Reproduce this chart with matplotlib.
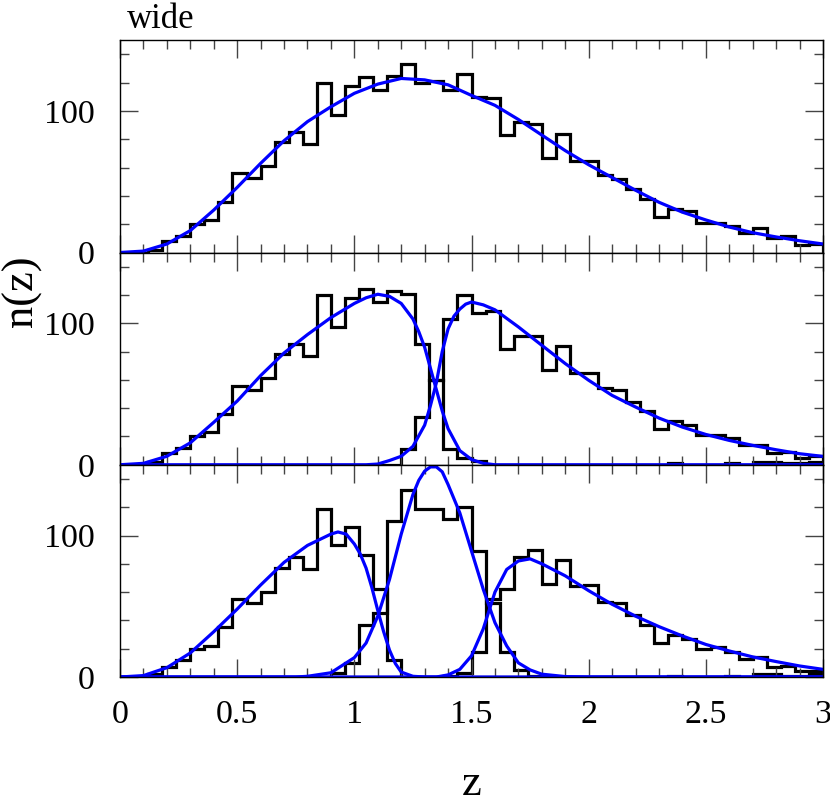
import numpy as np
import matplotlib
matplotlib.use("Agg")
import matplotlib.pyplot as plt
from matplotlib.ticker import MultipleLocator

plt.rcParams['font.family'] = ['Liberation Serif', 'DejaVu Serif']

# histogram bins: 0..3 in steps of 0.06
bin_edges = np.linspace(0, 3, 51)

# top panel ("wide")
wide_counts = [0, 0, 2, 8, 12, 20, 23, 36, 56, 53, 61, 78, 85, 77, 120, 97, 118, 124, 115, 125,
               133, 120, 121, 115, 126, 110, 109, 83, 92, 91, 67, 84, 65, 65, 55, 52, 45, 38, 25, 31,
               29, 21, 21, 19, 14, 17, 10, 12, 5, 6]

# middle panel, two bins
two_lo_counts = [0, 0, 2, 8, 12, 20, 23, 36, 56, 53, 61, 78, 85, 77, 120, 97, 118, 124, 115, 123,
                 121, 85, 60, 11, 5, 3, 0, 0, 0, 0, 0, 0, 0, 0, 0, 0, 0, 0, 0, 1,
                 0, 0, 0, 1, 0, 2, 2, 1, 1, 2]
two_hi_counts = [0, 0, 0, 0, 0, 0, 0, 0, 0, 0, 0, 0, 0, 0, 0, 0, 0, 0, 0, 0,
                 11, 34, 60, 103, 120, 107, 109, 82, 91, 91, 67, 84, 65, 65, 54, 53, 44, 38, 25, 31,
                 28, 21, 21, 19, 14, 14, 8, 9, 5, 6]

# bottom panel, three bins
three_lo_counts = [0, 0, 2, 7, 12, 20, 22, 35, 55, 52, 60, 77, 85, 76, 119, 93, 106, 86, 62, 12,
                   0, 0, 0, 0, 0, 0, 0, 0, 0, 0, 0, 0, 0, 0, 0, 0, 0, 0, 0, 1,
                   0, 0, 0, 1, 0, 2, 2, 1, 1, 2]
three_mid_counts = [0, 0, 0, 0, 0, 0, 0, 0, 0, 0, 0, 0, 0, 0, 0, 3, 10, 37, 45, 110,
                    132, 119, 119, 112, 120, 89, 52, 18, 5, 1, 0, 0, 0, 0, 0, 0, 0, 0, 0, 0,
                    0, 0, 0, 0, 0, 0, 0, 0, 0, 0]
three_hi_counts = [0, 0, 0, 0, 0, 0, 0, 0, 0, 0, 0, 0, 0, 0, 0, 0, 0, 0, 0, 0,
                   0, 0, 0, 1, 3, 18, 55, 62, 85, 90, 66, 83, 64, 65, 53, 52, 44, 37, 24, 30,
                   27, 20, 21, 18, 13, 14, 7, 8, 4, 4]

# smooth model curves
wide_z = [0, 0.1, 0.2, 0.3, 0.4, 0.5, 0.6, 0.7, 0.8, 0.9, 1.0, 1.1, 1.2, 1.3, 1.4, 1.5, 1.6, 1.7,
          1.8, 1.9, 2.0, 2.1, 2.2, 2.3, 2.4, 2.5, 2.6, 2.7, 2.8, 2.9, 3.0]
wide_nz = [0, 1, 6, 15.5, 30, 46, 63, 79, 92.5, 103, 112.5, 119, 123, 122, 118.5, 111, 104, 94,
           83, 72, 62, 53, 44, 35.5, 28.5, 23, 18, 14, 11, 8.3, 6]

two_lo_z = [0, 0.1, 0.2, 0.3, 0.4, 0.5, 0.6, 0.7, 0.8, 0.9, 1.0, 1.05, 1.1, 1.15, 1.2, 1.25,
            1.275, 1.3, 1.325, 1.35, 1.375, 1.4, 1.45, 1.5, 1.55, 1.6, 3.0]
two_lo_nz = [0, 1, 6, 15.5, 30, 45, 63, 79, 92, 104, 114, 118, 120.5, 119, 114, 103,
             94, 83, 68, 53, 38, 25.5, 10, 3.7, 1, 0, 0]
two_hi_z = [0, 1.05, 1.1, 1.15, 1.2, 1.25, 1.3, 1.325, 1.35, 1.375, 1.4, 1.425, 1.45, 1.475,
            1.5, 1.55, 1.6, 1.7, 1.8, 1.9, 2.0, 2.1, 2.2, 2.3, 2.4, 2.5, 2.6, 2.7, 2.8, 2.9, 3.0]
two_hi_nz = [0, 0, 0.5, 3, 6, 13, 28, 42, 58, 80, 96, 105, 110, 113.5,
             115, 113, 109.5, 97.4, 84.4, 71.5, 59.7, 49, 40.8, 33, 26.6, 21.4, 17.2, 13.7, 10.6, 7.8, 5.9]

three_lo_z = [0, 0.1, 0.2, 0.3, 0.4, 0.5, 0.6, 0.7, 0.8, 0.9, 0.93, 0.965, 1.0, 1.025, 1.05,
              1.075, 1.1, 1.125, 1.15, 1.175, 1.2, 1.25, 1.3, 3.0]
three_lo_nz = [0, 1, 6.6, 17, 32, 48, 65, 81, 93, 101, 102.5, 101, 94, 87, 77,
               63, 47, 32, 19, 9.5, 3.5, 0.5, 0, 0]
three_mid_z = [0, 0.75, 0.8, 0.9, 1.0, 1.05, 1.1, 1.15, 1.2, 1.25, 1.275, 1.3, 1.325, 1.35,
               1.375, 1.4, 1.45, 1.5, 1.55, 1.6, 1.65, 1.7, 1.75, 1.8, 1.9, 2.0, 3.0]
three_mid_nz = [0, 0, 0.5, 3, 13.7, 24, 43, 69, 101, 129, 139, 145.5, 148.5, 148.5,
                145, 136, 116, 89, 62, 38.4, 22, 10, 5, 2, 0.3, 0, 0]
three_hi_z = [0, 1.35, 1.4, 1.45, 1.5, 1.55, 1.6, 1.65, 1.7, 1.75, 1.8, 1.9, 2.0, 2.1, 2.2,
              2.3, 2.4, 2.5, 2.6, 2.7, 2.8, 2.9, 3.0]
three_hi_nz = [0, 0, 1.5, 5.4, 15, 34, 60, 76, 82, 83.5, 80, 71.5, 61, 51.4, 43,
               35.6, 29, 23, 18.4, 14.2, 10.9, 7.8, 5.4]

panels = [
    [(wide_counts, wide_z, wide_nz)],
    [(two_lo_counts, two_lo_z, two_lo_nz), (two_hi_counts, two_hi_z, two_hi_nz)],
    [(three_lo_counts, three_lo_z, three_lo_nz), (three_mid_counts, three_mid_z, three_mid_nz),
     (three_hi_counts, three_hi_z, three_hi_nz)],
]

fig, axes = plt.subplots(3, 1, figsize=(8.3, 8.05), dpi=100, sharex=True)
fig.subplots_adjust(left=0.1446, right=0.9916, top=0.950, bottom=0.159, hspace=0)

for ax, sets in zip(axes, panels):
    for counts, cz, cn in sets:
        ax.stairs(counts, bin_edges, color='black', lw=2.3)
    for counts, cz, cn in sets:
        ax.plot(cz, cn, color='#0000ff', lw=2.3, solid_joinstyle='round')
    ax.set_xlim(0, 3)
    ax.set_ylim(0, 150)
    ax.xaxis.set_major_locator(MultipleLocator(0.5))
    ax.xaxis.set_minor_locator(MultipleLocator(0.1))
    ax.yaxis.set_major_locator(MultipleLocator(100))
    ax.yaxis.set_minor_locator(MultipleLocator(20))
    ax.tick_params(which='both', direction='in', top=True, right=True, width=1, colors='#444444',
                   labelcolor='black', labelsize=24.5)
    ax.tick_params(which='major', length=13)
    ax.tick_params(which='minor', length=6.5)
    ax.tick_params(axis='x', pad=16)
    ax.tick_params(axis='y', pad=18)
    for s in ax.spines.values():
        s.set_linewidth(1.0)

axes[2].set_xticks([0, 0.5, 1, 1.5, 2, 2.5, 3])
axes[2].set_xticklabels(['0', '0.5', '1', '1.5', '2', '2.5', '3'])

axes[0].text(0.01, 1.06, 'wide', transform=axes[0].transAxes, fontsize=25, ha='left', va='baseline')
fig.text(22 / 830, 1 - 291 / 805, 'n(z)', rotation=90, fontsize=32, ha='center', va='center')
fig.text(471.5 / 830, 0.012, 'z', fontsize=32, ha='center', va='baseline')

fig.savefig('out.png', dpi=100)
